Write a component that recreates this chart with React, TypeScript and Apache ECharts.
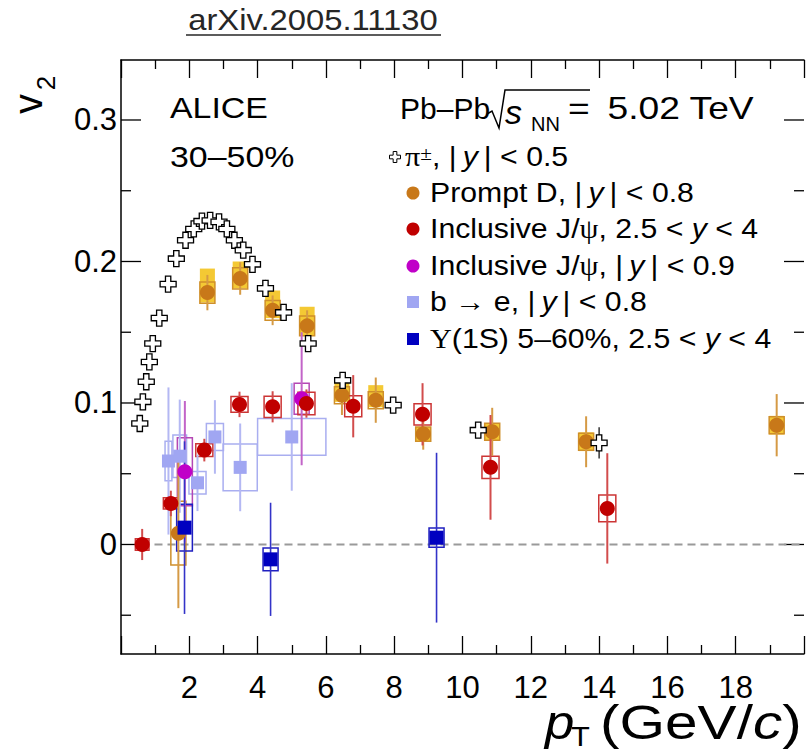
import React, { useEffect, useRef } from 'react';
import * as echarts from 'echarts';

// ---------------- data ----------------
const xTickLabels = ['2', '4', '6', '8', '10', '12', '14', '16', '18'];
const yTickValues = [-0.05, 0, 0.05, 0.1, 0.15, 0.2, 0.25, 0.3];
const yTickLabels = ['', '0', '', '0.1', '', '0.2', '', '0.3'];
const zeroLineX = [0.6, 20];

// charged pions
const pionPt = [0.55, 0.64, 0.74, 0.83, 0.93, 1.12, 1.38, 1.62, 1.89, 2.13, 2.37, 2.61, 2.87, 3.1, 3.32, 3.58, 3.85, 4.23, 4.76, 5.48, 6.49, 7.97, 10.46, 14.0];
const pionV2 = [0.0855, 0.1008, 0.115, 0.129, 0.142, 0.16, 0.184, 0.202, 0.215, 0.223, 0.2285, 0.229, 0.228, 0.223, 0.215, 0.208, 0.198, 0.181, 0.164, 0.142, 0.116, 0.0985, 0.0808, 0.0718];
const pionStat = [0, 0, 0, 0, 0, 0, 0, 0, 0, 0, 0, 0, 0, 0, 0, 0, 0, 0.006, 0.003, 0.003, 0.003, 0.003, 0.005, 0.011];

// prompt D
const dPt = [1.68, 2.53, 3.49, 4.44, 5.45, 6.47, 7.46, 8.85, 10.87, 13.62, 19.2];
const dV2 = [0.008, 0.178, 0.188, 0.1655, 0.1545, 0.1055, 0.102, 0.078, 0.0796, 0.0726, 0.0843];
const dStat = [0.053, 0.0125, 0.0115, 0.0105, 0.011, 0.014, 0.016, 0.011, 0.017, 0.018, 0.022];
const dFdHi = [0, 0.017, 0.012, 0.014, 0.0135, 0.0105, 0.0106, 0.005, 0.006, 0.0066, 0.0066];
const dFdLo = [0, 0.007, 0.007, 0.0055, 0.0065, 0.0047, 0.005, 0.0055, 0.006, 0.0066, 0.0066];
const dSys = [0.0225, 0.0075, 0.0075, 0.007, 0.007, 0.006, 0.006, 0.005, 0.006, 0.006, 0.006];
const dHalfW = [0.22, 0.22, 0.22, 0.22, 0.22, 0.22, 0.22, 0.22, 0.22, 0.22, 0.22];

// inclusive J/psi, forward rapidity
const jPt = [0.62, 1.46, 2.44, 3.47, 4.44, 5.43, 6.8, 8.83, 10.82, 14.24];
const jV2 = [0.0, 0.029, 0.0667, 0.099, 0.0973, 0.0996, 0.0977, 0.092, 0.0545, 0.0255];
const jStat = [0.011, 0.009, 0.008, 0.009, 0.011, 0.01, 0.022, 0.022, 0.037, 0.039];
const jSys = [0.004, 0.004, 0.0045, 0.0055, 0.0075, 0.008, 0.0075, 0.0075, 0.0078, 0.0095];
const jHalfW = [0.2, 0.22, 0.25, 0.25, 0.25, 0.25, 0.25, 0.25, 0.25, 0.25];

// inclusive J/psi, mid rapidity
const mPt = [1.87, 5.29];
const mV2 = [0.0514, 0.103];
const mStat = [0.05, 0.047];
const mSys = [0.024, 0.011];
const mHalfW = [0.22, 0.22];

// b -> e
const bPt = [1.39, 1.72, 2.24, 2.75, 3.49, 5.0];
const bV2 = [0.059, 0.0624, 0.0436, 0.076, 0.0545, 0.076];
const bStat = [0.052, 0.04, 0.02, 0.026, 0.031, 0.038];
const bSys = [0.014, 0.015, 0.008, 0.0095, 0.0165, 0.013];
const bHalfW = [0.1, 0.2, 0.25, 0.25, 0.5, 1.0];

// Upsilon(1S)
const uPt = [1.86, 4.38, 9.24];
const uV2 = [0.0119, -0.0105, 0.0048];
const uStat = [0.061, 0.04, 0.06];
const uSys = [0.0165, 0.008, 0.0068];
const uHalfW = [0.23, 0.22, 0.22];

// ---------------- helpers ----------------
const FONT = '"Liberation Sans", Arial, Helvetica, sans-serif';
const SERIF = '"Liberation Serif", "DejaVu Serif", serif';
const TH = '\u2009';

function boxSeries(xs: number[], ys: number[], hw: number[], lo: number[], hi: number[], fill: string, stroke: string, z: number) {
  return {
    type: 'custom',
    silent: true,
    z,
    clip: false,
    data: xs.map((x, i) => [x, ys[i], hw[i], lo[i], hi[i]]),
    encode: { x: 0, y: 1 },
    renderItem: (params: any, api: any) => {
      const x = api.value(0), y = api.value(1), w = api.value(2), l = api.value(3), h = api.value(4);
      if (!(l > 0 || h > 0)) return { type: 'group', children: [] };
      const a = api.coord([x - w, y + h]);
      const b = api.coord([x + w, y - l]);
      return {
        type: 'rect',
        shape: { x: a[0], y: a[1], width: b[0] - a[0], height: b[1] - a[1] },
        style: { fill, stroke, lineWidth: 1.5 },
      };
    },
  };
}

function errSeries(xs: number[], ys: number[], err: number[], color: string, width: number, z: number) {
  return {
    type: 'custom',
    silent: true,
    z,
    clip: false,
    data: xs.map((x, i) => [x, ys[i], err[i]]),
    encode: { x: 0, y: 1 },
    renderItem: (params: any, api: any) => {
      const x = api.value(0), y = api.value(1), e = api.value(2);
      if (!(e > 0)) return { type: 'group', children: [] };
      const a = api.coord([x, y + e]);
      const b = api.coord([x, y - e]);
      return {
        type: 'line',
        shape: { x1: a[0], y1: a[1], x2: b[0], y2: b[1] },
        style: { stroke: color, lineWidth: width },
      };
    },
  };
}

function markerSeries(name: string, xs: number[], ys: number[], symbol: string, size: number, color: string, z: number, border?: string) {
  return {
    type: 'scatter',
    name,
    silent: true,
    z,
    symbol,
    symbolSize: size,
    data: xs.map((x, i) => [x, ys[i]]),
    itemStyle: border ? { color, borderColor: border, borderWidth: 1.3, opacity: 1 } : { color, opacity: 1 },
  };
}

const PLUS = 'path://M1,0L2,0L2,1L3,1L3,2L2,2L2,3L1,3L1,2L0,2L0,1L1,1Z';

function txt(x: number, y: number, text: string, size: number, opts: any = {}) {
  const align = opts.align || 'left';
  const va = opts.va || 'middle';
  const fam = opts.family || FONT;
  const fill = opts.fill || '#000';
  const rich: any = {
    i: { fontSize: size, fontFamily: FONT, fontStyle: 'italic', fill },
    g: { fontSize: size, fontFamily: SERIF, fill },
    sup: { fontSize: Math.round(size * 0.7), fontFamily: SERIF, verticalAlign: 'top', fill },
  };
  return {
    type: 'text',
    x,
    y,
    scaleX: opts.sx || 1,
    silent: true,
    z: 100,
    style: {
      text,
      fontSize: size,
      fontFamily: fam,
      fontStyle: opts.italic ? 'italic' : 'normal',
      fill,
      align,
      textAlign: align,
      verticalAlign: va,
      textVerticalAlign: va,
      rich,
    },
  };
}

const legendY = [157, 193, 229, 266, 302, 339];
const LEG_SIZE = 27;
const LEG_SX = 1.12;
const LEG_X = 430;
const ABSY = `|${TH}{i|y}${TH}|`;

function plusPoints(cx: number, cy: number, s: number) {
  const a = s / 6, b = s / 2;
  return [
    [cx - a, cy - b], [cx + a, cy - b], [cx + a, cy - a], [cx + b, cy - a], [cx + b, cy + a], [cx + a, cy + a],
    [cx + a, cy + b], [cx - a, cy + b], [cx - a, cy + a], [cx - b, cy + a], [cx - b, cy - a], [cx - a, cy - a],
  ];
}

// ---------------- option ----------------
function buildOption() {
  const axisCommon = {
    type: 'value',
    min: 0,
    max: 20,
    interval: 2,
    axisLine: { show: true, onZero: false, lineStyle: { color: '#000', width: 1.5 } },
    axisTick: { show: true, inside: true, length: 18, lineStyle: { color: '#000', width: 1.3 } },
    minorTick: { show: true, splitNumber: 2, length: 9, lineStyle: { color: '#000', width: 1.3 } },
    splitLine: { show: false },
    minorSplitLine: { show: false },
  };
  return {
    animation: false,
    backgroundColor: '#ffffff',
    grid: { left: 121, top: 60, right: -10, bottom: 99, containLabel: false },
    xAxis: [
      {
        ...axisCommon,
        position: 'bottom',
        axisLabel: {
          show: true,
          margin: 18,
          fontSize: 31,
          fontFamily: FONT,
          color: '#000',
          formatter: (v: number) => (xTickLabels.indexOf(String(v)) >= 0 ? String(v) : ''),
        },
      },
      { ...axisCommon, position: 'top', axisLabel: { show: false } },
    ],
    yAxis: [
      {
        type: 'value',
        min: -0.0774,
        max: 0.3424,
        axisLine: { show: true, onZero: false, lineStyle: { color: '#000', width: 1.5 } },
        axisTick: { show: false },
        axisLabel: { show: false },
        splitLine: { show: false },
      },
    ],
    series: [
      {
        type: 'line',
        silent: true,
        z: 1,
        symbol: 'none',
        data: zeroLineX.map((x) => [x, 0]),
        lineStyle: { color: '#9a9a9a', width: 2, type: [8, 5] },
      },
      {
        type: 'custom',
        silent: true,
        z: 1,
        clip: false,
        data: yTickValues.map((v) => [0, v]),
        encode: { x: 0, y: 1 },
        renderItem: (params: any, api: any) => {
          const idx = params.dataIndex;
          const v = api.value(1);
          const p = api.coord([0, v]);
          const cs = params.coordSys;
          const left = cs.x;
          const right = cs.x + cs.width;
          const label = yTickLabels[idx];
          const len = label !== '' ? 20 : 10;
          return {
            type: 'group',
            children: [
              { type: 'line', shape: { x1: left, y1: p[1], x2: left + len, y2: p[1] }, style: { stroke: '#000', lineWidth: 1.3 } },
              { type: 'line', shape: { x1: right - len, y1: p[1], x2: right, y2: p[1] }, style: { stroke: '#000', lineWidth: 1.3 } },
              {
                type: 'text',
                x: left - 4,
                y: p[1],
                style: {
                  text: label,
                  fontSize: 31,
                  fontFamily: FONT,
                  fill: '#000',
                  align: 'right',
                  textAlign: 'right',
                  verticalAlign: 'middle',
                  textVerticalAlign: 'middle',
                },
              },
            ],
          };
        },
      },
      // b -> e
      boxSeries(bPt, bV2, bHalfW, bSys, bSys, 'none', '#A9AEF0', 2),
      errSeries(bPt, bV2, bStat, '#B4B8F3', 2, 3),
      // prompt D
      boxSeries(dPt, dV2, dHalfW, dFdLo, dFdHi, 'rgba(243,195,30,0.9)', 'none', 2),
      boxSeries(dPt, dV2, dHalfW, dSys, dSys, 'none', '#CF8F2A', 2),
      errSeries(dPt, dV2, dStat, '#D59A45', 2, 3),
      // J/psi mid
      boxSeries(mPt, mV2, mHalfW, mSys, mSys, 'none', '#B447B4', 2),
      errSeries(mPt, mV2, mStat, '#C264C8', 2, 3),
      // J/psi forward
      boxSeries(jPt, jV2, jHalfW, jSys, jSys, 'none', '#CC3535', 2),
      errSeries(jPt, jV2, jStat, '#D24C4C', 2, 3),
      // Upsilon
      boxSeries(uPt, uV2, uHalfW, uSys, uSys, 'none', '#1F1FC0', 2),
      errSeries(uPt, uV2, uStat, '#3333C8', 1.6, 3),
      // pions
      errSeries(pionPt, pionV2, pionStat, '#000', 1.2, 3),
      // markers
      markerSeries('b → e', bPt, bV2, 'rect', 13, '#A0A6F2', 4),
      markerSeries('Prompt D', dPt, dV2, 'circle', 15, '#C87819', 4),
      markerSeries('Inclusive J/ψ mid', mPt, mV2, 'circle', 15, '#C000C8', 4),
      markerSeries('Inclusive J/ψ fwd', jPt, jV2, 'circle', 15, '#C00000', 4),
      markerSeries('Υ(1S)', uPt, uV2, 'rect', 14, '#0000C0', 5),
      markerSeries('π±', pionPt, pionV2, PLUS, 16, '#ffffff', 6, '#000'),
    ],
    graphic: [
      // title
      txt(313, 20, 'arXiv.2005.11130', 29, { align: 'center', sx: 1.13, fill: '#262626' }),
      { type: 'line', silent: true, shape: { x1: 186, y1: 35, x2: 441, y2: 35 }, style: { stroke: '#262626', lineWidth: 1.5 } },
      // y title v2 (rotated)
      {
        type: 'group',
        x: 28,
        y: 104,
        rotation: Math.PI / 2,
        silent: true,
        children: [
          txt(0, 0, 'v', 40, { align: 'center' }),
          txt(21, 18, '2', 26, { align: 'center' }),
        ],
      },
      // x title
      txt(545, 722, 'p', 48, { italic: true, sx: 1.1 }),
      txt(571, 736, 'T', 28, { sx: 1.1 }),
      txt(600, 722, '(GeV/{i|c})', 48, { sx: 1.22 }),
      // header
      txt(170, 108, 'ALICE', 30, { sx: 1.13 }),
      txt(170, 157, '30–50%', 30, { sx: 1.13 }),
      txt(400, 108, 'Pb–Pb', 30, { sx: 1.0 }),
      { type: 'polyline', silent: true, shape: { points: [[487, 114], [492, 111], [499, 128], [505, 90], [590, 90]] }, style: { stroke: '#000', lineWidth: 1.5, fill: 'none' } },
      txt(505, 112, 's', 34, { italic: true }),
      txt(531, 124, 'NN', 20),
      txt(568, 108, `=${TH} 5.02 TeV`, 31, { sx: 1.2 }),
      // legend markers
      { type: 'polygon', silent: true, shape: { points: plusPoints(395, legendY[0], 11) }, style: { fill: '#fff', stroke: '#000', lineWidth: 1 } },
      { type: 'circle', silent: true, shape: { cx: 413, cy: legendY[1], r: 6.5 }, style: { fill: '#C87819' } },
      { type: 'circle', silent: true, shape: { cx: 413, cy: legendY[2], r: 6.5 }, style: { fill: '#C00000' } },
      { type: 'circle', silent: true, shape: { cx: 413, cy: legendY[3], r: 6.5 }, style: { fill: '#C000C8' } },
      { type: 'rect', silent: true, shape: { x: 407, y: legendY[4] - 6, width: 12, height: 12 }, style: { fill: '#A0A6F2' } },
      { type: 'rect', silent: true, shape: { x: 407, y: legendY[5] - 6, width: 12, height: 12 }, style: { fill: '#0000C0' } },
      // legend texts
      txt(405, legendY[0], `{g|π}{sup|±}, ${ABSY} < 0.5`, LEG_SIZE, { sx: LEG_SX }),
      txt(LEG_X, legendY[1], `Prompt D, ${ABSY} < 0.8`, LEG_SIZE, { sx: LEG_SX }),
      txt(LEG_X, legendY[2], `Inclusive J/{g|ψ}, 2.5 < {i|y} < 4`, LEG_SIZE, { sx: LEG_SX }),
      txt(LEG_X, legendY[3], `Inclusive J/{g|ψ}, ${ABSY} < 0.9`, LEG_SIZE, { sx: LEG_SX }),
      txt(LEG_X, legendY[4], `b → e, ${ABSY} < 0.8`, LEG_SIZE, { sx: LEG_SX }),
      txt(LEG_X, legendY[5], `{g|Υ}(1S) 5–60%, 2.5 < {i|y} < 4`, LEG_SIZE, { sx: LEG_SX }),
    ],
  };
}

export default function App() {
  const ref = useRef<HTMLDivElement>(null);
  useEffect(() => {
    if (!ref.current) return;
    const chart = echarts.init(ref.current, null, { renderer: 'svg' });
    chart.setOption(buildOption() as any);
    return () => chart.dispose();
  }, []);
  return (
    <div
      ref={ref}
      style={{ position: 'fixed', left: 0, top: 0, width: 807, height: 753, background: '#fff' }}
    />
  );
}
